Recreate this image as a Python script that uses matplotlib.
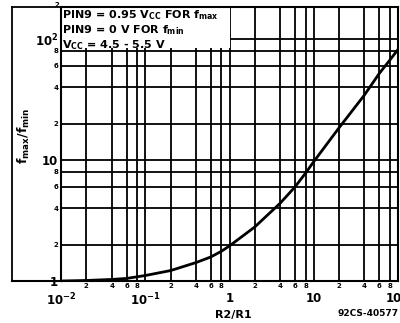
import numpy as np
import matplotlib.pyplot as plt
from matplotlib.patches import Rectangle
from matplotlib.lines import Line2D

plt.rcParams["font.family"] = ["DejaVu Sans"]
plt.rcParams["font.weight"] = "bold"
plt.rcParams["axes.labelweight"] = "bold"
plt.rcParams["mathtext.fontset"] = "dejavusans"
plt.rcParams["mathtext.default"] = "bf"

# curve
r2_r1 = [0.01, 0.02, 0.04, 0.06, 0.1, 0.2, 0.4, 0.6, 0.8, 1,
         2, 4, 6, 8, 10, 20, 40, 60, 80, 100]
fratio = [1.0, 1.01, 1.03, 1.05, 1.11, 1.22, 1.42, 1.58, 1.76, 1.95,
          2.8, 4.4, 6.0, 7.8, 9.7, 18.5, 34.5, 52, 67, 82]

decades_x = [0.01, 0.1, 1, 10, 100]
decade_x_labels = ["$10^{-2}$", "$10^{-1}$", "1", "10", "100"]
minor_mult = [2, 4, 6, 8]
y_major = [1, 10, 100]
y_major_labels = ["1", "10", "$10^2$"]

notes = ["PIN9 = 0.95 V$_{CC}$ FOR f$_{max}$",
         "PIN9 = 0 V FOR f$_{min}$",
         "V$_{CC}$ = 4.5 - 5.5 V"]

fig = plt.figure(figsize=(4.0, 3.23), dpi=100)
ax = fig.add_axes([61 / 400, 1 - 281 / 323, 337 / 400, 274 / 323])
ax.set_xscale("log")
ax.set_yscale("log")
ax.set_xlim(0.01, 100)
ax.set_ylim(1, 184)

# grid lines
x_minor = [d * m for d in decades_x[:-1] for m in minor_mult]
y_minor = [d * m for d in y_major for m in minor_mult if d * m < 184]
for xv in x_minor + decades_x:
    ax.axvline(xv, color="black", lw=1.3, zorder=1)
for yv in y_minor + y_major:
    ax.axhline(yv, color="black", lw=1.3, zorder=1)

# note box covers the grid in the upper left
ax.add_patch(Rectangle((0.01, 84), 0.99, 200, facecolor="white",
                       edgecolor="none", zorder=2))
for i, s in enumerate(notes):
    ax.text(0.004, 0.995 - i * 0.055, s, transform=ax.transAxes,
            fontsize=8, ha="left", va="top", zorder=3)

ax.plot(r2_r1, fratio, color="black", lw=2.0, zorder=4)

for sp in ax.spines.values():
    sp.set_linewidth(1.5)

# tick labels
ax.set_xticks(decades_x)
ax.set_xticklabels(decade_x_labels, fontsize=8.5)
ax.set_xticks(x_minor, minor=True)
ax.set_xticklabels([str(m) for d in decades_x[:-1] for m in minor_mult],
                   minor=True, fontsize=5)
ax.tick_params(axis="x", which="major", length=0, pad=8)
ax.tick_params(axis="x", which="minor", length=0, pad=1.5)

ax.set_yticks(y_major)
ax.set_yticklabels(y_major_labels, fontsize=8.5)
ax.set_yticks(y_minor, minor=True)
ax.set_yticklabels([str(m) for d in y_major for m in minor_mult if d * m < 184],
                   minor=True, fontsize=5)
ax.tick_params(axis="y", which="both", length=0, pad=2)
ax.text(-0.006, 191, "2", fontsize=5, ha="right", va="center",
        transform=ax.get_yaxis_transform(), clip_on=False)

ax.set_xlabel("R2/R1", fontsize=8, fontweight="bold")
ax.set_ylabel("f$_{max}$/f$_{min}$", fontsize=9)
ax.yaxis.set_label_coords(-0.085, 0.53)
ax.xaxis.set_label_coords(0.51, -0.105)

# outer frame of the figure panel
fx0, fx1 = 12 / 400, 61 / 400
fy0, fy1 = 1 - 281 / 323, 1 - 7 / 323
fig.add_artist(Line2D([fx0, fx0], [fy0, fy1], color="black", lw=1.3))
fig.add_artist(Line2D([fx0, fx1], [fy1, fy1], color="black", lw=1.3))
fig.add_artist(Line2D([fx0, fx1], [fy0, fy0], color="black", lw=1.5))

fig.text(337 / 400, 1 - 313 / 323, "92CS-40577", fontsize=6.5, ha="left",
         va="center")

fig.savefig("out.png", dpi=100)
